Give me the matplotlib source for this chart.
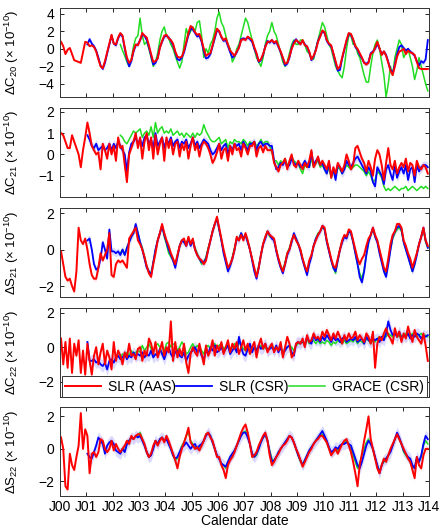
import numpy as np
import matplotlib.pyplot as plt

plt.rcParams['font.family'] = ['Liberation Sans', 'DejaVu Sans']
plt.rcParams['mathtext.fontset'] = 'custom'
plt.rcParams['mathtext.rm'] = 'Liberation Sans'
plt.rcParams['mathtext.it'] = 'Liberation Sans:italic'
plt.rcParams['font.size'] = 10

# monthly values (x 1e-10), one row per year
# SLR (AAS) 2000-2013, SLR (CSR) 2001-2013, GRACE (CSR) Apr 2002-2013

# --- Delta C20 ---
c20_aas = [
    [0.8, 0.3, -0.6, -0.1, 0.1, -0.6, -1.3, -1.4, -1.5, -1.6, -0.4, 0.8],
    [0.7, 0.3, 0.4, 0.2, -0.3, -1.2, -2.0, -2.2, -1.4, -0.4, 0.6, 1.6],
    [0.6, 0.5, 1.3, 1.8, 1.5, 0.2, -1.0, -1.6, -1.3, -0.2, 0.5, 0.4],
    [1.0, 1.8, 1.5, 1.3, 0.4, -0.6, -1.5, -1.4, -1.1, 0.1, 0.9, 1.5],
    [1.6, 1.2, 1.0, 0.6, -0.3, -0.9, -1.0, -0.9, -0.2, 0.8, 1.8, 2.6],
    [2.4, 1.9, 1.6, 1.7, 1.0, 0.0, -0.8, -0.6, -0.5, 0.4, 1.4, 2.3],
    [2.0, 1.4, 1.0, 1.2, 0.5, -0.2, -0.5, -0.8, -0.3, 0.1, 1.0, 1.1],
    [1.0, 1.4, 1.2, 1.0, 0.2, -0.5, -1.4, -1.2, -0.6, 0.2, 0.8, 0.8],
    [1.0, 0.7, 0.9, 0.3, -0.3, -1.0, -1.7, -1.6, -0.9, 0.0, 0.6, 1.0],
    [0.8, 0.5, 1.0, 0.4, 0.3, -0.3, -1.2, -0.8, -0.2, 0.8, 1.4, 2.1],
    [1.9, 1.0, 0.6, 0.4, -0.5, -1.4, -2.3, -2.0, -1.0, 0.0, 1.0, 1.8],
    [1.7, 1.1, 0.3, 0.0, -0.5, -1.0, -1.6, -1.8, -1.6, -0.6, -0.4, 0.1],
    [0.8, 0.1, -0.7, -0.3, -0.8, -1.6, -2.5, -3.0, -2.0, -0.9, -0.3, -0.2],
    [0.0, -0.6, -0.2, -0.4, -0.5, -0.7, -1.5, -2.2, -2.3, -2.3, -2.3, -2.3],
]
c20_csr = [
    [0.5, 1.1, 0.6, 0.3, -0.2, -1.0, -1.9, -2.3, -1.6, -0.5, 0.5, 1.5],
    [0.6, 0.4, 1.2, 1.7, 1.4, 0.0, -1.2, -2.0, -1.4, -0.3, 0.4, 0.5],
    [1.0, 1.6, 1.5, 1.0, 0.2, -0.8, -1.8, -1.6, -1.0, 0.2, 0.8, 1.4],
    [1.5, 1.3, 0.9, 0.4, -0.4, -1.2, -1.3, -1.0, -0.4, 0.6, 1.6, 2.3],
    [2.2, 1.8, 1.4, 1.5, 0.8, -0.3, -1.1, -1.0, -0.6, 0.3, 1.2, 2.1],
    [2.0, 1.3, 0.9, 1.0, 0.3, -0.4, -1.0, -0.8, -0.4, 0.2, 1.1, 1.2],
    [1.1, 1.3, 1.1, 0.8, 0.0, -0.6, -1.5, -1.3, -0.7, 0.3, 0.9, 0.7],
    [1.0, 0.6, 0.8, 0.2, -0.4, -1.1, -1.9, -1.7, -1.0, 0.1, 0.8, 1.1],
    [0.7, 0.6, 0.9, 0.5, 0.2, -0.4, -1.3, -0.9, -0.1, 0.9, 1.5, 2.0],
    [1.8, 0.9, 0.5, 0.3, -0.6, -1.6, -2.5, -2.4, -1.1, -0.1, 0.9, 1.7],
    [1.6, 1.0, 0.2, -0.1, -0.7, -1.1, -1.6, -1.7, -1.5, -0.5, -0.3, 0.0],
    [0.6, 0.0, -0.6, -0.3, -0.7, -1.5, -2.4, -2.8, -1.8, -0.6, 0.2, 0.4],
    [0.1, -0.2, 0.0, -0.3, -0.5, -0.8, -1.4, -1.9, -1.4, -1.6, -1.2, 1.0],
]
c20_grace = [
    [0.5, -0.2, -0.8, -1.5, -2.0, -1.2, 0.3, 1.2, 1.5],
    [3.5, 1.5, 0.5, 0.8, 0.0, -1.0, -2.0, -1.5, -0.5, 1.0, 2.0, 2.5],
    [1.5, 1.2, 0.5, 0.0, -0.8, -1.5, -2.2, -1.5, 0.5, 2.3, 1.5, 2.0],
    [2.5, 2.0, 3.0, 3.2, 1.5, -1.0, 0.0, -0.5, 0.5, 1.0, 2.0, 3.5],
    [4.2, 3.0, 2.5, 1.5, 0.5, 0.0, -1.5, -1.0, 0.0, 0.5, 1.5, 2.5],
    [3.5, 3.0, 2.0, 1.0, 0.0, -1.0, -1.5, -2.0, -1.0, 0.5, 1.5, 2.0],
    [3.0, 2.0, 1.5, 0.5, -0.5, -1.5, -2.0, -1.5, -0.5, 0.5, 1.0, 0.5],
    [0.5, 1.0, 1.0, 0.5, -0.3, -0.5, -1.0, -1.2, 0.0, 1.0, 2.0, 3.0],
    [2.5, 1.5, 0.5, 0.0, -1.0, -2.0, -2.5, -3.0, -3.3, -2.0, 0.0, 1.5],
    [1.5, 0.5, 0.5, -0.5, -1.0, -2.0, -3.0, -3.8, -3.8, -2.0, -0.5, 0.5],
    [1.0, 0.0, -1.5, -3.0, -5.5, -4.0, -2.0, -3.0, -1.0, 0.0, 1.0, 0.5],
    [-1.0, -0.5, 0.0, -1.0, -2.0, -3.5, -2.5, -1.0, -2.0, -3.0, -4.0, -4.8],
]

# --- Delta C21 ---
c21_aas = [
    [1.0, 0.9, 0.6, 0.3, 0.3, 0.9, 0.6, 0.3, 0.0, -0.6, 0.2, 0.8],
    [1.5, 1.0, 0.4, 0.2, 0.0, 0.1, -0.7, 0.5, 0.2, -0.2, 0.5, 0.0],
    [0.4, -0.3, 0.8, 0.3, 0.4, -0.5, -1.3, 0.0, 0.3, 0.6, 1.0, 0.3],
    [0.8, -0.2, 0.6, 1.0, 0.2, 0.8, -0.2, 0.9, 0.0, 0.5, 0.8, -0.3],
    [0.8, 0.3, 0.7, 0.0, 0.5, 0.6, -0.1, 0.5, 0.2, 0.6, -0.2, 0.4],
    [0.8, 0.2, 0.5, -0.1, 0.4, 0.6, 0.5, 0.3, 0.0, -0.4, -0.2, 0.1],
    [0.5, -0.2, 0.2, 0.3, -0.3, 0.4, 0.0, 0.5, 0.2, 0.3, -0.1, 0.5],
    [0.3, 0.0, 0.4, 0.4, 0.6, -0.1, 0.3, 0.4, 0.1, 0.4, 0.2, 0.2],
    [0.2, -0.4, -0.6, -0.8, -0.5, -0.4, -0.2, -0.7, -0.3, 0.0, -0.5, -0.6],
    [-0.3, -0.5, -0.7, -0.4, -0.6, -0.3, 0.2, -0.6, -0.4, -0.1, -0.5, -0.3],
    [-0.5, -0.7, -0.3, -1.1, -0.6, -0.9, -0.4, -0.6, -0.8, -0.5, 0.0, -0.3],
    [-0.7, -0.5, 0.3, 0.4, 0.1, -0.2, -0.4, -0.8, -0.3, -0.6, -1.0, -0.2],
    [0.2, 0.0, -0.5, -1.2, -0.4, 0.3, -0.5, -0.7, -0.3, -0.9, -0.6, -0.4],
    [-0.6, -0.2, -0.8, -0.4, -0.5, -1.0, -0.3, -0.6, -0.7, -0.5, -0.6, -0.9],
]
c21_csr = [
    [0.9, 0.7, 0.4, 0.3, 0.5, 0.2, 0.3, 0.4, 0.2, 0.3, 0.5, 0.2],
    [0.5, 0.3, 0.6, 0.4, 0.2, 0.0, -0.8, 0.1, 0.5, 0.6, 0.8, 0.5],
    [0.7, 0.4, 0.8, 0.9, 0.5, 0.7, 0.3, 1.0, 0.4, 0.6, 0.8, 0.3],
    [0.7, 0.5, 0.8, 0.4, 0.6, 0.7, 0.3, 0.6, 0.5, 0.7, 0.3, 0.5],
    [0.8, 0.4, 0.6, 0.3, 0.5, 0.7, 0.6, 0.5, 0.2, 0.0, 0.1, 0.3],
    [0.5, 0.2, 0.4, 0.5, 0.0, 0.4, 0.2, 0.5, 0.4, 0.5, 0.2, 0.6],
    [0.4, 0.2, 0.5, 0.5, 0.6, 0.2, 0.5, 0.6, 0.4, 0.5, 0.5, 0.4],
    [0.4, -0.3, -0.7, -0.6, -0.4, -0.5, -0.3, -0.6, -0.5, -0.2, -0.4, -0.5],
    [-0.4, -0.6, -0.5, -0.3, -0.5, -0.6, 0.1, -0.5, -0.3, -0.2, -0.5, -0.4],
    [-0.7, -0.9, -0.4, -1.0, -0.7, -1.2, -0.5, -0.6, -0.9, -0.7, -0.3, -0.5],
    [-0.6, -0.4, -0.2, -0.1, -0.3, -0.5, -0.7, -0.9, -0.6, -0.8, -1.3, -1.5],
    [-0.6, -0.8, -1.0, -1.4, -0.7, -0.5, -0.9, -1.2, -0.5, -1.1, -0.8, -0.6],
    [-0.9, -0.5, -1.2, -0.7, -0.6, -1.3, -0.5, -0.8, -0.6, -0.5, -0.5, -0.6],
]
c21_grace = [
    [0.9, 0.8, 0.6, 0.5, 0.7, 0.9, 1.1, 1.0, 1.1],
    [1.2, 0.8, 1.0, 1.1, 0.9, 1.3, 0.8, 1.5, 1.0, 1.2, 1.3, 1.0],
    [1.1, 1.0, 1.2, 0.9, 1.0, 1.1, 0.9, 1.0, 0.8, 1.0, 0.9, 0.8],
    [1.0, 0.8, 1.0, 0.9, 1.0, 1.4, 1.1, 0.9, 0.7, 0.6, 0.6, 0.7],
    [0.8, 0.5, 0.6, 0.7, 0.3, 0.6, 0.5, 0.7, 0.6, 0.6, 0.5, 0.7],
    [0.6, 0.4, 0.6, 0.5, 0.6, 0.4, 0.5, 0.7, 0.5, 0.6, 0.6, 0.4],
    [0.1, -0.3, -0.3, -0.5, -0.3, -0.4, -0.2, -0.5, -0.4, -0.1, -0.3, -0.4],
    [-0.4, -0.7, -0.9, -0.5, -0.6, -0.6, -0.2, -0.6, -0.4, -0.3, -0.6, -0.5],
    [-0.7, -0.9, -0.6, -1.1, -0.8, -1.0, -0.6, -0.7, -0.9, -0.7, -0.5, -0.6],
    [-0.7, -0.6, -0.5, -0.5, -0.6, -0.7, -0.8, -1.0, -0.8, -1.0, -1.3, -1.2],
    [-0.8, -0.9, -1.1, -1.5, -1.7, -1.6, -1.7, -1.6, -1.5, -1.6, -1.7, -1.6],
    [-1.6, -1.5, -1.7, -1.6, -1.5, -1.6, -1.7, -1.6, -1.5, -1.6, -1.5, -1.6],
]

# --- Delta S21 ---
s21_aas = [
    [-0.1, -0.8, -1.5, -1.7, -1.6, -2.0, -2.3, -1.2, 1.2, 0.5, 0.3, 0.6],
    [0.0, -0.8, -1.4, -1.6, -1.6, -1.0, -0.2, -0.6, -0.3, 0.0, 0.9, -1.4],
    [-1.5, -0.8, -0.6, -0.7, -0.6, -0.8, -1.0, 0.6, 0.8, 1.0, 1.2, 0.5],
    [0.3, 0.0, -0.4, -0.9, -1.3, -1.5, -0.8, -0.2, 0.5, 0.9, 1.4, 0.9],
    [0.5, 0.2, -0.2, -0.5, -0.8, -0.3, 0.2, 0.5, 0.6, 0.2, 0.7, 0.3],
    [0.6, 0.0, -0.3, -0.5, -0.6, -0.8, -0.6, 0.0, 0.5, 1.0, 1.4, 1.8],
    [1.2, 0.6, 0.0, -0.5, -1.0, -0.8, -0.5, 0.0, 0.7, 0.5, 0.8, 0.5],
    [0.9, 0.5, 0.0, -0.5, -1.0, -1.5, -1.0, -0.3, 0.3, 0.7, 1.0, 0.8],
    [0.7, 0.6, 0.0, -0.5, -0.9, -1.2, -0.8, -0.2, 0.0, 0.5, 0.8, 0.5],
    [0.3, 0.0, -0.5, -0.9, -1.2, -0.6, -0.3, 0.2, 0.5, 0.8, 1.0, 1.3],
    [1.2, 0.5, 0.0, -0.5, -0.9, -1.0, -0.5, 0.0, 0.5, 0.8, 0.7, 1.1],
    [1.0, 0.5, 0.0, -0.5, -0.8, -0.5, -0.3, 0.2, 0.6, 0.8, 1.2, 0.8],
    [0.5, 0.0, -0.5, -1.0, -1.2, -0.5, 0.3, 0.8, 1.0, 1.4, 1.4, 1.2],
    [0.5, 0.2, -0.2, -0.5, -1.0, -0.6, -0.2, 0.3, 0.7, 1.2, 0.5, 0.2],
]
s21_csr = [
    [0.5, 0.6, 0.0, -0.8, -1.1, -1.0, -0.5, 0.4, 0.0, -0.5, 1.1, -0.1],
    [-0.1, -0.2, -0.1, -0.3, 0.0, -0.3, 0.1, 0.4, 0.7, 0.9, 1.4, 0.9],
    [0.4, 0.0, -0.5, -1.0, -1.2, -1.4, -0.7, 0.0, 0.5, 0.9, 1.3, 0.8],
    [0.4, 0.0, -0.3, -0.6, -1.0, -0.4, 0.2, 0.5, 0.4, 0.2, 0.6, 0.2],
    [0.5, 0.0, -0.3, -0.5, -0.7, -0.7, -0.5, 0.0, 0.5, 1.0, 1.4, 1.7],
    [1.1, 0.5, -0.2, -0.7, -1.2, -0.9, -0.5, 0.0, 0.6, 0.5, 0.9, 0.6],
    [0.8, 0.4, 0.0, -0.6, -1.2, -1.6, -1.0, -0.3, 0.3, 0.6, 1.0, 0.8],
    [0.6, 0.5, -0.1, -0.6, -1.0, -1.3, -0.8, -0.3, 0.0, 0.4, 0.9, 0.6],
    [0.3, -0.1, -0.6, -1.0, -1.4, -0.8, -0.4, 0.2, 0.6, 0.8, 1.0, 1.3],
    [1.1, 0.4, -0.1, -0.6, -1.0, -1.2, -0.6, 0.0, 0.4, 0.7, 0.6, 1.0],
    [0.9, 0.4, -0.2, -0.8, -1.5, -1.8, -1.2, -0.3, 0.4, 0.8, 1.2, 0.7],
    [0.4, -0.2, -0.7, -1.2, -1.5, -0.8, 0.0, 0.7, 1.0, 1.2, 1.3, 1.1],
    [0.4, 0.0, -0.4, -0.8, -1.2, -0.8, -0.3, 0.3, 0.7, 1.2, 0.5, 0.1],
]
s21_grace = [
    [-0.2, 0.0, -0.3, 0.1, 0.4, 0.7, 0.9, 1.3, 0.9],
    [0.4, 0.1, -0.4, -0.9, -1.2, -1.3, -0.7, 0.0, 0.5, 0.9, 1.3, 0.7],
    [0.3, -0.2, -0.4, -0.6, -0.8, -0.3, 0.2, 0.5, 0.4, 0.3, 0.6, 0.3],
    [0.5, 0.1, -0.2, -0.5, -0.8, -0.7, -0.4, 0.1, 0.5, 1.0, 1.4, 1.7],
    [1.1, 0.5, -0.1, -0.6, -1.0, -0.9, -0.4, 0.1, 0.6, 0.6, 0.9, 0.6],
    [0.8, 0.4, 0.0, -0.5, -1.1, -1.4, -0.9, -0.3, 0.3, 0.7, 1.0, 0.7],
    [0.7, 0.5, 0.0, -0.5, -0.9, -1.1, -0.7, -0.2, 0.1, 0.5, 0.8, 0.6],
    [0.3, 0.0, -0.5, -0.9, -1.3, -0.7, -0.3, 0.2, 0.6, 0.9, 1.0, 1.2],
    [1.1, 0.5, 0.0, -0.6, -1.0, -1.3, -0.6, 0.0, 0.5, 0.7, 0.7, 1.0],
    [0.9, 0.4, -0.2, -0.8, -1.3, -1.6, -1.1, -0.3, 0.4, 0.8, 1.1, 0.7],
    [0.5, -0.1, -0.6, -1.1, -1.3, -0.7, 0.0, 0.6, 0.9, 1.1, 1.2, 1.0],
    [0.4, 0.0, -0.3, -0.8, -1.2, -0.8, -0.2, 0.3, 0.7, 1.1, 0.4, 0.1],
]

# --- Delta C22 ---
c22_aas = [
    [0.5, -1.0, 0.3, -1.2, 0.5, -1.5, 0.2, -0.5, 0.4, -1.5, -0.2, -1.6],
    [0.2, -0.8, -1.6, -0.5, 0.0, -1.0, -0.3, 0.2, -1.0, -0.2, -0.6, -1.3],
    [0.3, -0.8, -0.2, -0.5, -1.0, -0.3, -0.6, 0.2, -0.5, -0.4, -0.7, -0.1],
    [0.0, -0.8, -0.2, -0.5, 0.5, 0.2, -0.4, 0.3, -0.6, -0.2, 0.3, -0.5],
    [0.0, -0.3, 1.5, -0.8, 0.3, -0.6, -0.1, -0.5, 0.2, -0.9, -1.5, -0.4],
    [0.0, -0.3, -0.5, 0.2, -0.4, -1.0, 0.1, -0.5, -0.2, 0.4, -0.5, 0.1],
    [-0.2, 0.3, -0.4, 0.0, 0.4, -0.3, 0.2, -0.1, 0.3, -0.4, 0.0, 0.4],
    [-0.2, 0.2, -0.4, 0.0, 0.3, -0.6, 0.1, 0.5, -0.1, 0.2, -0.3, 0.0],
    [0.2, -0.3, 0.0, -0.2, 0.3, -0.6, 0.0, 0.6, 0.2, -0.6, -0.4, 0.2],
    [0.3, 0.2, 0.5, 0.0, 0.7, 0.3, 0.4, 0.8, 0.5, 0.6, 0.4, 0.9],
    [0.6, 1.0, 0.7, 0.4, 0.8, 0.5, 0.9, 0.6, 0.2, 0.7, 0.4, 0.8],
    [0.5, 0.6, 0.9, 0.4, 0.7, 0.5, 0.3, 0.8, 0.6, 0.2, 0.9, -1.2],
    [0.2, 0.6, 0.4, 0.8, 1.1, 0.7, 0.5, 0.2, 1.1, 0.6, 0.9, 0.3],
    [0.8, 0.5, 1.2, 0.7, 0.3, 1.0, 0.6, 0.4, 0.2, 0.8, 0.1, -0.8],
]
c22_csr = [
    [0.3, -0.8, -0.8, -0.7, -0.9, -0.8, -1.0, -1.1, -0.9, -1.3, -0.8, -0.7],
    [-0.9, -0.6, -0.5, -0.7, -0.6, -0.4, -0.7, -0.5, -0.6, -0.3, -0.5, -0.4],
    [-0.5, -0.3, -0.6, -0.4, -0.5, -0.2, -0.6, -0.4, -0.5, -0.1, -0.4, -0.7],
    [-0.3, 0.0, -0.4, -0.6, -0.3, -0.2, -0.5, -0.6, -0.3, -0.8, -0.5, -0.3],
    [-0.2, 0.0, -0.3, -0.1, -0.5, -0.7, -0.2, -0.4, 0.0, -0.2, 0.1, -0.3],
    [-0.2, 0.0, -0.3, -0.1, 0.1, -0.4, -0.2, 0.0, -0.3, 0.6, 0.0, -0.4],
    [-0.5, -0.1, 0.2, -0.3, 0.0, -0.2, 0.1, -0.1, 0.0, 0.2, -0.2, -0.1],
    [0.0, -0.2, 0.1, -0.3, 0.0, -0.4, -0.2, 0.0, 0.1, -0.3, -0.5, 0.2],
    [0.3, 0.2, 0.4, 0.1, 0.6, 0.3, 0.2, 0.7, 0.4, 0.5, 0.3, 0.6],
    [0.4, 0.7, 0.5, 0.3, 0.6, 0.4, 0.5, 0.3, 0.5, 0.6, 0.3, 0.4],
    [0.5, 0.4, 0.6, 0.3, 0.4, 0.5, 0.2, 0.6, 0.4, 0.3, 0.5, 0.4],
    [0.5, 0.3, 0.6, 0.4, 0.8, 1.5, 1.0, 0.7, 0.8, 0.6, 0.9, 0.5],
    [0.7, 0.6, 0.8, 0.5, 0.7, 0.6, 0.8, 0.7, 0.5, 0.7, 0.6, 0.7],
]
c22_grace = [
    [-0.6, -0.4, -0.5, -0.3, -0.5, -0.2, -0.4, -0.3, -0.2],
    [-0.3, 0.1, -0.2, 0.0, 0.2, -0.1, -0.3, 0.1, 0.2, 0.0, -0.4, -0.2],
    [0.2, 0.3, 0.0, 0.2, 0.1, -0.2, 0.0, 0.3, 0.1, -0.4, -0.3, 0.0],
    [0.2, -0.1, 0.1, 0.0, -0.2, -0.4, 0.0, 0.1, -0.1, 0.1, 0.2, 0.0],
    [0.1, 0.2, -0.1, 0.0, 0.2, -0.2, 0.0, 0.2, 0.0, 0.3, 0.1, -0.1],
    [-0.2, 0.0, 0.1, -0.2, 0.0, -0.1, 0.0, 0.1, -0.1, 0.0, -0.2, 0.0],
    [0.1, -0.1, 0.0, -0.2, -0.1, -0.3, -0.1, 0.0, 0.1, 0.0, -0.2, 0.1],
    [0.2, 0.3, 0.3, 0.1, 0.5, 0.2, 0.3, 0.4, 0.2, 0.4, 0.2, 0.3],
    [0.2, 0.4, 0.3, 0.1, 0.3, 0.2, 0.4, 0.3, 0.2, 0.4, 0.2, 0.3],
    [0.4, 0.3, 0.5, 0.2, 0.4, 0.3, 0.2, 0.5, 0.4, 0.2, 0.4, 0.3],
    [0.5, 0.6, 0.5, 0.7, 0.6, 0.8, 0.7, 0.6, 0.8, 0.7, 0.6, 0.7],
    [0.6, 0.8, 0.7, 0.6, 0.8, 0.7, 0.6, 0.7, 0.8, 0.6, 0.7, 0.6],
]

# --- Delta S22 ---
s22_aas = [
    [0.7, 0.0, -2.3, -2.5, -0.3, -1.0, -1.3, -0.5, 0.2, 2.2, 0.0, 1.2],
    [0.8, -1.5, -0.3, -0.2, -0.5, -0.2, 0.6, 0.5, 0.0, -0.2, 0.0, 0.5],
    [-0.1, 0.3, 0.0, -0.2, 0.0, 0.2, 0.5, 0.3, 0.8, 0.6, 0.8, 0.9],
    [0.9, 0.6, 0.3, -0.2, -0.5, -0.3, 0.2, 0.5, 0.2, 0.5, 0.7, 0.4],
    [0.8, 0.5, 0.1, -0.3, -0.7, -1.2, -0.5, 0.0, 0.4, 0.8, 1.3, 0.4],
    [0.2, 0.0, 0.1, -0.1, 0.2, 0.5, 0.9, 1.0, 0.7, 0.5, 0.0, -0.5],
    [-0.5, -1.0, -1.3, -1.8, -1.0, -0.7, -0.5, -0.2, 0.2, 0.6, 1.0, 1.3],
    [1.5, 1.0, 0.3, -0.5, -0.4, -0.2, 0.2, 0.5, 0.8, 1.0, 0.5, -0.4],
    [-1.0, -0.8, -0.5, -0.3, 0.0, 0.2, 0.3, 0.5, 0.8, 0.7, 0.4, 0.0],
    [-0.3, -0.7, -1.1, -0.8, -0.5, -0.2, 0.0, 0.3, 0.5, 0.6, 0.8, 0.8],
    [0.6, 0.4, 0.0, -0.4, -0.2, 0.0, -0.3, 0.0, 0.3, 0.5, 0.6, 0.2],
    [-0.2, -0.8, -1.5, -2.3, -1.0, -0.3, 0.5, 1.2, 2.0, 0.6, 0.0, -0.6],
    [-1.2, -1.5, -1.0, -0.6, -0.8, -0.4, 0.0, 0.3, 0.6, 0.9, 0.6, 0.3],
    [0.0, -0.3, -0.6, -0.8, -1.3, -1.8, -0.5, -1.0, -1.2, -0.4, 0.0, 0.0],
]
s22_csr = [
    [-0.3, -0.5, -0.6, -0.2, 0.2, 0.7, 0.5, 0.3, -0.3, 0.2, 0.4, 0.5],
    [0.3, -0.1, -0.2, -0.3, 0.0, -0.2, 0.3, 0.5, 0.7, 0.6, 0.8, 0.7],
    [0.8, 0.5, 0.2, -0.2, -0.5, -0.4, 0.0, 0.5, 0.3, 0.6, 0.7, 0.5],
    [0.6, 0.3, 0.0, -0.4, -0.6, -0.5, -0.2, 0.1, 0.2, 0.4, 0.2, 0.0],
    [0.2, 0.3, 0.0, 0.2, 0.3, 0.5, 0.8, 1.0, 0.8, 0.4, 0.0, -0.4],
    [-0.6, -0.9, -1.0, -1.1, -0.8, -0.5, -0.3, -0.1, 0.2, 0.5, 0.8, 1.0],
    [1.0, 0.7, 0.3, -0.3, -0.5, -0.3, 0.0, 0.4, 0.7, 0.9, 0.5, -0.2],
    [-0.8, -0.7, -0.5, -0.2, 0.0, 0.2, 0.4, 0.6, 0.8, 0.7, 0.4, 0.0],
    [-0.4, -0.7, -1.0, -0.7, -0.4, -0.1, 0.1, 0.3, 0.5, 0.7, 0.9, 1.1],
    [0.8, 0.5, 0.1, -0.2, -0.1, 0.1, 0.0, 0.2, 0.3, 0.3, 0.4, 0.3],
    [0.2, -0.2, -0.6, -1.0, -1.2, -0.8, -0.3, 0.2, 0.5, 0.3, 0.0, -0.5],
    [-1.0, -1.5, -1.0, -0.7, -0.6, -0.4, -0.2, 0.2, 0.6, 1.0, 0.7, 0.3],
    [-0.1, -0.3, -0.5, -0.6, -1.0, -1.2, -0.5, -0.8, -0.4, 0.3, 0.8, 0.6],
]
s22_grace = [
    [-0.2, 0.0, -0.1, 0.3, 0.5, 0.7, 0.6, 0.8, 0.8],
    [1.0, 0.6, 0.2, -0.2, -0.5, -0.3, 0.1, 0.5, 0.3, 0.6, 0.7, 0.5],
    [0.7, 0.3, 0.0, -0.4, -0.7, -0.6, -0.2, 0.2, 0.4, 0.8, 1.0, 0.5],
    [0.3, 0.0, 0.1, 0.0, 0.2, 0.5, 0.9, 1.0, 0.8, 0.4, 0.0, -0.4],
    [-0.6, -0.9, -1.0, -1.2, -0.8, -0.5, -0.3, -0.1, 0.2, 0.5, 0.8, 1.0],
    [1.1, 0.8, 0.3, -0.3, -0.5, -0.4, 0.0, 0.4, 0.7, 0.9, 0.5, -0.1],
    [-0.6, -0.8, -0.5, -0.2, 0.0, 0.2, 0.4, 0.6, 0.8, 0.7, 0.4, 0.0],
    [-0.4, -0.8, -0.9, -0.7, -0.4, -0.1, 0.1, 0.3, 0.5, 0.7, 0.8, 0.9],
    [0.7, 0.4, 0.0, -0.3, -0.2, 0.0, -0.1, 0.1, 0.3, 0.4, 0.5, 0.3],
    [0.0, -0.4, -0.8, -1.2, -0.9, -0.4, 0.0, 0.4, 0.6, 0.3, 0.0, -0.6],
    [-1.0, -1.4, -1.0, -0.8, -0.6, -0.4, -0.1, 0.2, 0.6, 0.9, 0.6, 0.3],
    [-0.2, -0.4, -0.6, -0.8, -1.1, -1.2, -0.6, -0.8, -0.5, 0.2, 0.5, 0.3],
]

ylabels = ['ΔC$_{20}$ (× 10$^{-10}$)',
           'ΔC$_{21}$ (× 10$^{-10}$)',
           'ΔS$_{21}$ (× 10$^{-10}$)',
           'ΔC$_{22}$ (× 10$^{-10}$)',
           'ΔS$_{22}$ (× 10$^{-10}$)']
ylims = [(-5.5, 4.7), (-2.0, 2.2), (-2.6, 2.3), (-2.9, 2.3), (-2.9, 2.6)]
yticks = [[-4, -2, 0, 2, 4], [-1, 0, 1, 2], [-2, 0, 2], [-2, 0, 2], [-2, 0, 2]]
xlabels = ['J%02d' % y for y in range(0, 15)]

panels = [(c20_aas, c20_csr, c20_grace), (c21_aas, c21_csr, c21_grace),
          (s21_aas, s21_csr, s21_grace), (c22_aas, c22_csr, c22_grace),
          (s22_aas, s22_csr, s22_grace)]
band_csr = [0.25, 0.2, 0.2, 0.35, 0.35]
band_aas = [0.15, 0.15, 0.15, 0.25, 0.2]


def monthly(rows, start):
    v = np.array([x for r in rows for x in r])
    t = start + np.arange(len(v)) / 12.0 + 1 / 24.0
    return t, v


fig = plt.figure(figsize=(4.44, 5.29), dpi=100)
bottoms = [0.8166, 0.6276, 0.4386, 0.2495, 0.0624]

for k, (aas, csr, grace) in enumerate(panels):
    ax = fig.add_axes([0.135, bottoms[k], 0.831, 0.169])
    t_a, v_a = monthly(aas, 2000.0)
    t_c, v_c = monthly(csr, 2001.0)
    t_g, v_g = monthly(grace, 2002.25)

    ax.fill_between(t_a, v_a - band_aas[k], v_a + band_aas[k], color='#ff9999', alpha=0.25, lw=0)
    ax.fill_between(t_c, v_c - band_csr[k], v_c + band_csr[k], color='#8888ff', alpha=0.3, lw=0)
    ax.plot(t_g, v_g, color='#22dd22', lw=1.1, label='GRACE (CSR)')
    ax.plot(t_c, v_c, color='#0000ff', lw=1.3, label='SLR (CSR)')
    ax.plot(t_a, v_a, color='#ff0000', lw=1.4, label='SLR (AAS)')

    ax.set_xlim(2000, 2014)
    ax.set_ylim(*ylims[k])
    ax.set_yticks(yticks[k])
    ax.set_xticks(np.arange(2000, 2015))
    ax.tick_params(direction='in', top=True, right=True, length=3, width=0.6, pad=4, labelsize=10)
    for s in ax.spines.values():
        s.set_linewidth(0.7)
        s.set_color('#333333')
    ax.set_ylabel(ylabels[k], fontsize=9.5)
    ax.yaxis.set_label_coords(-0.105, 0.5)
    if k < 4:
        ax.set_xticklabels([])
    else:
        ax.set_xticklabels(xlabels)
        ax.tick_params(axis='x', pad=3)
        ax.set_xlabel('Calendar date', fontsize=10, labelpad=0)
    if k == 3:
        h, l = ax.get_legend_handles_labels()
        leg = ax.legend(h[::-1], l[::-1], loc='lower left', bbox_to_anchor=(0.005, 0.0, 0.99, 0.3),
                        mode='expand', ncol=3, borderaxespad=0, handlelength=2.6,
                        fancybox=False, framealpha=1, edgecolor='#333333', fontsize=10,
                        borderpad=0.25, handletextpad=0.5, columnspacing=0.5)
        leg.get_frame().set_linewidth(0.7)

fig.savefig('out.png', dpi=100)
